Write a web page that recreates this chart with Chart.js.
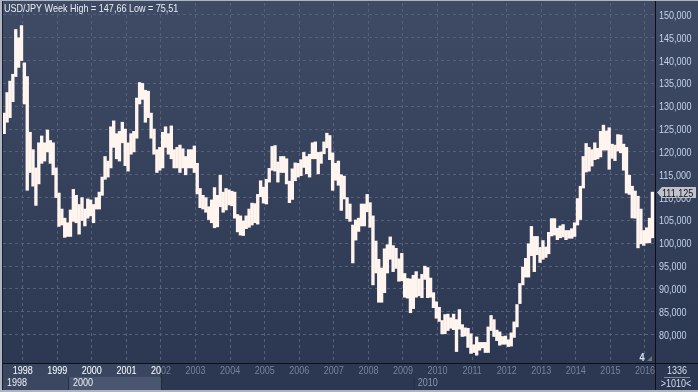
<!DOCTYPE html>
<html><head><meta charset="utf-8">
<script src="https://cdn.jsdelivr.net/npm/chart.js@4/dist/chart.umd.min.js"></script>
<style>html,body{margin:0;padding:0;background:#2b3650;overflow:hidden}</style>
</head><body>
<canvas id="c" width="698" height="392" style="display:block;width:698px;height:392px"></canvas>
<script>
// ---------------- DATA ----------------
const title = 'USD/JPY Week High = 147,66 Low = 75,51';
const tickYears = ['1998','1999','2000','2001','2002','2003','2004','2005','2006','2007','2008','2009','2010','2011','2012','2013','2014','2015','2016'];
const decadeLabels = ['1998','2000','2010'];
const yTicks = [80,85,90,95,100,105,110,115,120,125,130,135,140,145,150];
const lastPrice = 111.125;
const firstYear = 1998, firstMonth = 2; // monthly high/low bars from Feb 1998 to Nov 2016
const lows = [
 124.0,126.5,127.5,131.0,136.5,138.5,140.0,130.5,111.6,115.5,112.5,                 // 1998
 108.3,113.0,117.5,118.0,120.0,117.5,115.0,110.0,103.7,104.0,101.3,101.5,          // 1999
 101.5,104.8,104.5,102.0,105.0,103.8,105.5,106.0,104.5,107.5,107.5,110.5,          // 2000
 114.0,114.5,116.5,121.0,118.5,118.0,122.0,117.0,115.8,119.5,120.0,123.0,          // 2001
 130.5,131.5,126.5,127.5,123.0,119.5,115.5,116.0,116.5,121.0,119.5,118.5,          // 2002
 116.5,116.5,115.5,116.5,115.0,116.5,116.5,115.5,110.8,107.8,107.5,106.8,          // 2003
 105.2,104.5,103.4,103.6,108.0,106.8,107.3,108.4,108.2,105.5,102.5,101.8,          // 2004
 101.7,103.2,103.5,104.0,104.5,104.2,110.2,108.8,108.6,113.4,116.0,115.8,          // 2005
 113.4,115.5,115.5,113.0,108.9,109.6,113.7,114.5,114.8,116.6,115.2,114.5,          // 2006
 118.5,118.5,115.2,117.5,119.6,120.9,118.3,111.6,113.8,112.7,107.2,109.7,          // 2007
 105.4,104.8,95.7,100.7,102.6,103.8,103.8,106.9,103.5,90.9,93.5,87.1,              // 2008
 87.1,89.2,93.5,96.5,93.8,94.5,91.7,91.8,88.2,88.0,84.8,85.7,                      // 2009
 88.2,88.5,88.1,92.1,88.1,88.2,85.9,83.6,82.9,80.2,80.2,80.9,                      // 2010
 81.4,81.1,76.3,81.2,79.6,79.7,77.2,75.9,76.1,75.51,76.6,77.1,                     // 2011
 76.1,76.1,80.9,79.6,78.7,77.7,77.9,77.9,77.4,77.5,79.4,81.7,                      // 2012
 86.8,90.9,92.6,92.6,97.3,93.8,97.5,95.8,96.5,96.9,97.7,101.6,                     // 2013
 101.8,100.8,101.2,101.4,100.8,101.1,101.1,101.5,104.0,105.2,112.1,115.6,          // 2014
 115.8,116.9,118.3,118.5,118.9,120.4,120.4,116.2,118.6,118.1,120.2,119.8,          // 2015
 116.0,111.0,110.7,105.55,105.5,99.0,99.9,99.55,100.1,100.1,101.2                  // 2016
];
const highs = [
 128.5,133.0,135.5,137.0,146.8,145.0,147.66,139.5,136.5,124.3,120.5,               // 1998
 116.5,122.0,123.5,122.0,124.8,122.5,122.0,116.5,111.0,107.5,105.5,104.5,          // 1999
 107.3,111.8,110.5,108.5,110.0,107.5,109.7,109.5,108.5,110.0,111.2,114.5,          // 2000
 119.0,118.0,125.5,126.8,124.0,124.5,126.5,125.0,122.0,124.0,124.5,131.8,          // 2001
 135.2,135.0,133.5,133.3,128.5,125.0,120.5,121.0,124.3,125.5,124.0,125.7,          // 2002
 120.5,121.0,121.5,120.7,119.0,120.5,120.5,121.3,117.5,112.0,110.5,110.0,          // 2003
 108.0,109.5,112.2,110.5,114.9,111.2,112.0,111.7,111.4,111.2,106.3,106.0,          // 2004
 104.9,106.0,107.5,108.8,108.7,110.7,113.7,112.3,114.0,116.4,121.2,121.4,          // 2005
 117.8,119.0,119.0,118.5,113.6,116.3,117.6,117.5,118.3,119.9,119.0,119.5,          // 2006
 122.0,122.2,119.9,120.0,122.2,124.1,123.6,119.8,117.5,118.0,115.0,114.7,          // 2007
 110.0,108.6,104.0,105.1,105.5,108.6,108.6,110.7,108.9,106.0,100.5,96.5,           // 2008
 94.6,98.8,99.7,101.4,99.5,98.9,96.6,97.8,93.4,92.3,92.2,93.0,                     // 2009
 93.8,92.2,93.2,95.0,94.7,92.4,89.2,87.2,86.0,83.1,84.4,84.5,                      // 2010
 83.7,84.5,83.3,85.5,82.2,81.5,81.4,80.2,77.8,79.5,78.3,78.3,                      // 2011
 78.3,81.7,84.2,83.3,81.0,80.6,79.6,79.7,78.9,80.4,82.8,86.6,                      // 2012
 91.2,94.8,96.7,99.9,103.7,101.5,101.5,99.1,100.6,99.2,102.4,105.4,                // 2013
 105.4,103.3,103.8,104.1,102.8,102.8,103.2,104.5,109.8,112.5,119.0,121.85,         // 2014
 121.0,120.5,122.0,120.8,124.5,125.86,124.6,125.3,121.7,121.5,123.8,123.7,         // 2015
 121.7,121.0,114.9,112.5,111.45,110.3,107.5,102.8,103.4,105.5,111.2                // 2016
];
// month labels (categories)
const months = lows.map((_, i) => {
  const k = firstMonth - 1 + i;
  return (firstYear + Math.floor(k / 12)) + '-' + String(k % 12 + 1).padStart(2, '0');
});
// ---------------- LAYOUT / STYLE ----------------
const X_MIN = 1998.09, X_MAX = 2016.95;   // visible time window (years)
const GRID_OFFSET = 0.66;                  // year grid lines sit ~8 months into each year
const NAV_END = 2002.66;                   // end of highlighted navigator window
const FAM = '"Liberation Sans", Arial, sans-serif';
const FS = 11, SX = 0.82;                  // narrow look: Arial metrics squeezed horizontally

function txt(ctx, s, x, y, align, color, weight) {
  ctx.save();
  ctx.font = (weight || 'normal') + ' ' + FS + 'px ' + FAM;
  ctx.fillStyle = color;
  ctx.textBaseline = 'alphabetic';
  const w = ctx.measureText(s).width * SX;
  let x0 = x;
  if (align === 'center') x0 = x - w / 2; else if (align === 'right') x0 = x - w;
  ctx.translate(x0, y); ctx.scale(SX, 1); ctx.textAlign = 'left';
  ctx.fillText(s, 0, 0);
  ctx.restore();
}

const toYear = (lbl) => { const [y, m] = lbl.split('-').map(Number); return y + (m - 0.5) / 12; };
const barData = months.map((m, i) => ({ x: toYear(m), y: [lows[i], highs[i]] }));

const deco = {
  id: 'deco',
  beforeDraw(chart) {
    const ctx = chart.ctx;
    const g = ctx.createLinearGradient(0, 0, 0, 363);
    g.addColorStop(0, '#3f4b65'); g.addColorStop(1, '#2c3852');
    ctx.save();
    ctx.fillStyle = g; ctx.fillRect(0, 0, 698, 363);
    ctx.fillStyle = '#2b3650'; ctx.fillRect(0, 363, 698, 29);
    ctx.restore();
  },
  afterDraw(chart) {
    const ctx = chart.ctx, xs = chart.scales.x, ys = chart.scales.y, a = chart.chartArea;
    ctx.save();
    // y tick labels (right axis)
    yTicks.forEach(v => {
      const py = ys.getPixelForValue(v);
      txt(ctx, v.toFixed(3).replace('.', ','), a.right + 4, py + 4, 'left', '#c2d3ea');
    });
    // navigator strip
    const navEnd = xs.getPixelForValue(NAV_END);
    const d2000 = xs.getPixelForValue(2000.0), d2010 = xs.getPixelForValue(2010.0);
    ctx.fillStyle = '#2c3751'; ctx.fillRect(0, 364, 655, 26);
    ctx.fillStyle = '#3a4660'; ctx.fillRect(0, 364, navEnd, 13);
    ctx.fillStyle = '#3b4760'; ctx.fillRect(0, 377, d2000, 13);
    ctx.fillStyle = '#4a5670'; ctx.fillRect(d2000, 377, navEnd - d2000, 13);
    ctx.fillStyle = '#222b40'; ctx.fillRect(navEnd, 364, 1, 26);
    ctx.fillStyle = '#26304a'; ctx.fillRect(d2000 - 1, 377, 1, 13); ctx.fillRect(d2010 - 1, 377, 1, 13);
    // year labels row 1 (white inside the navigator window, grey outside)
    const drawYears = (col) => tickYears.forEach(y => txt(ctx, y, xs.getPixelForValue(+y + GRID_OFFSET), 374, 'center', col));
    drawYears('#75829a');
    ctx.save(); ctx.beginPath(); ctx.rect(0, 364, navEnd, 13); ctx.clip(); drawYears('#eef2f7'); ctx.restore();
    // decade labels row 2
    const decX = [a.left + 4, d2000 + 4, d2010 + 3];
    decadeLabels.forEach((l, i) => txt(ctx, l, decX[i], 386, 'left', decX[i] < navEnd ? '#eef2f7' : '#8d98ab'));
    // separators
    ctx.fillStyle = '#0b0f18';
    ctx.fillRect(0, 363, 698, 1);
    ctx.fillRect(655, 0, 1, 392);
    // right-bottom box
    txt(ctx, '1336', 677, 374, 'center', '#d6deea');
    txt(ctx, '>1010<', 676, 387, 'center', '#d6deea');
    ctx.fillStyle = '#7d889c'; ctx.fillRect(664, 377, 26, 1);
    // "4" marker
    txt(ctx, '4', 642, 361, 'center', '#d8e4f4', 'bold');
    ctx.fillStyle = '#66738a'; ctx.beginPath(); ctx.moveTo(652, 356); ctx.lineTo(652, 361); ctx.lineTo(647, 361); ctx.closePath(); ctx.fill();
    // title
    txt(ctx, title, 4, 12, 'left', '#e9edf3');
    // price tag
    const py = Math.round(ys.getPixelForValue(lastPrice)) + 0.5;
    ctx.fillStyle = '#bfc4cc';
    ctx.beginPath(); ctx.moveTo(657, py); ctx.lineTo(662, py - 5.5); ctx.lineTo(696, py - 5.5); ctx.lineTo(696, py + 5.5); ctx.lineTo(662, py + 5.5); ctx.closePath(); ctx.fill();
    txt(ctx, lastPrice.toFixed(3).replace('.', ','), 662, py + 4, 'left', '#111');
    // frame
    ctx.fillStyle = '#aeb5c1'; ctx.fillRect(0, 0, 2, 392); ctx.fillRect(0, 390, 698, 2); ctx.fillRect(0, 0, 698, 1);
    ctx.fillStyle = '#1a2030'; ctx.fillRect(2, 1, 1, 389);
    ctx.restore();
  }
};

new Chart(document.getElementById('c'), {
  type: 'bar',
  data: { datasets: [{
    data: barData,
    backgroundColor: '#fff4ee', borderWidth: 0,
    barPercentage: 1, categoryPercentage: 1, barThickness: 2.7,
    grouped: false
  }]},
  options: {
    responsive: false, animation: false, devicePixelRatio: 1,
    layout: { padding: { left: 3, top: 3, right: 0, bottom: 29 } },
    plugins: { legend: { display: false }, tooltip: { enabled: false } },
    scales: {
      x: {
        type: 'linear', min: X_MIN, max: X_MAX, offset: false,
        afterBuildTicks: (s) => { s.ticks = tickYears.map(y => ({ value: +y + GRID_OFFSET })); },
        ticks: { display: false },
        grid: { offset: false, color: '#55617a', lineWidth: 1, drawTicks: false },
        border: { display: false, dash: [3, 3] }
      },
      y: {
        position: 'right', min: 73.8, max: 152.6,
        afterBuildTicks: (s) => { s.ticks = yTicks.map(v => ({ value: v })); },
        afterFit: (s) => { s.width = 43; },
        ticks: { display: false },
        grid: { color: '#55617a', lineWidth: 1, drawTicks: false },
        border: { display: false, dash: [3, 3] }
      }
    }
  },
  plugins: [deco]
});
</script>
</body></html>
